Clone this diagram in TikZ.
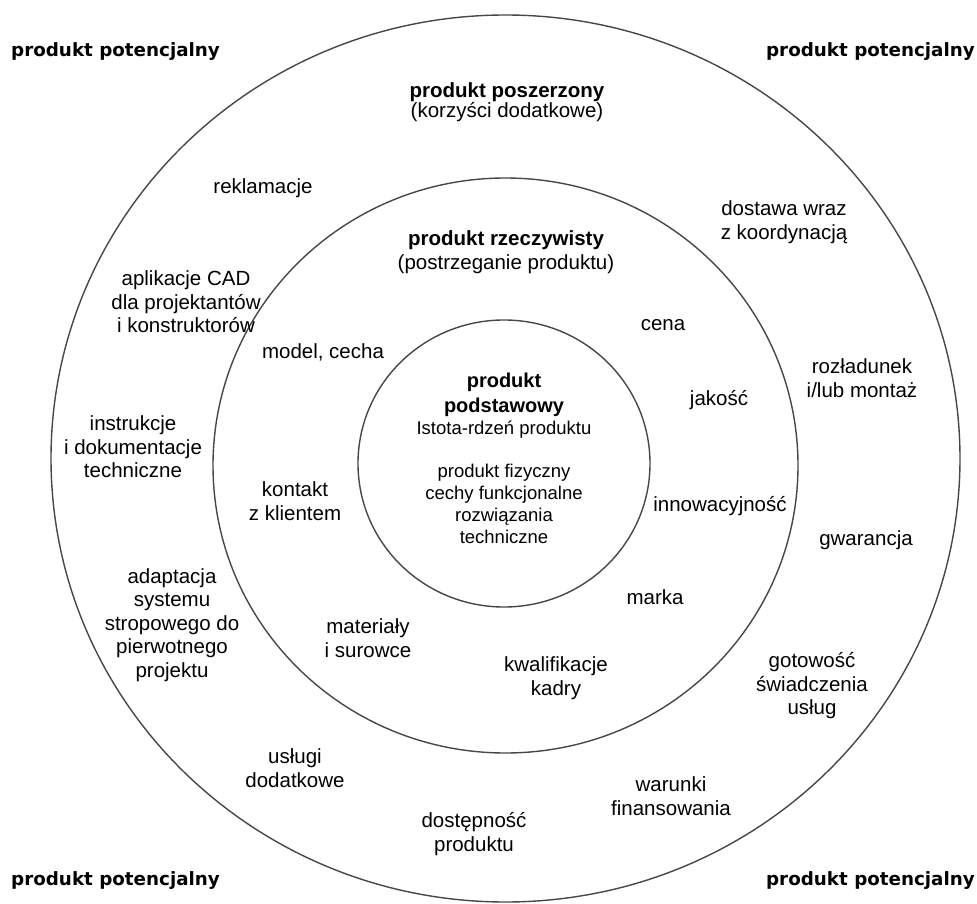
\documentclass[tikz,border=0pt]{standalone}
\usepackage{fontspec}
\setmainfont{Liberation Sans}
\newfontfamily\cornerfont{DejaVu Sans}
\usetikzlibrary{calc}

\begin{document}
\begin{tikzpicture}[x=1pt,y=-1pt,
  ring/.style={draw=black!72,line width=1.4pt},
  txt/.style={align=center,inner sep=0pt,font=\fontsize{20.5}{23.5}\selectfont},
  coretxt/.style={align=center,inner sep=0pt,font=\fontsize{18.5}{22}\selectfont},
  head/.style={align=center,inner sep=0pt,font=\fontsize{20.5}{23.5}\selectfont},
  corner/.style={inner sep=0pt,font=\cornerfont\bfseries\fontsize{18.3}{22}\selectfont}]
\useasboundingbox (0,0) rectangle (977,904);
\coordinate (O) at (505.5,458.5);
\coordinate (M) at (505.5,465.5);
\coordinate (I) at (504,463.5);
\draw[ring] (O) ellipse [x radius=454.5pt, y radius=443.5pt];
\draw[ring] (M) ellipse [x radius=292.5pt, y radius=287.5pt];
\draw[ring] (I) ellipse [x radius=146pt, y radius=143.5pt];
% corners
\foreach \n/\x/\y/\a in {tl/11/57/base west,tr/975/57/base east,bl/11/885/base west,br/975/885/base east}
  \node[corner,anchor=\a] (pot\n) at (\x,\y) {produkt potencjalny};
% heads
\node[head] (poszerzony) at (507,102) {\textbf{produkt poszerzony}\\[-3.5pt](korzyści dodatkowe)};
\node[head] (rzeczywisty) at (506,252) {\textbf{produkt rzeczywisty}\\(postrzeganie produktu)};
\node[coretxt] (podstawowy) at (504,458) {{\fontsize{20}{22}\selectfont\bfseries produkt}\\[3pt]
  {\fontsize{20}{22}\selectfont\bfseries podstawowy}\\Istota-rdzeń produktu\\[21pt]
  produkt fizyczny\\cechy funkcjonalne\\rozwiązania\\techniczne};
% outer ring
\node[txt] (reklamacje) at (263,188) {reklamacje};
\node[txt] (dostawa) at (784,222) {dostawa wraz\\z koordynacją};
\node[txt] (cad) at (186,302) {aplikacje CAD\\dla projektantów\\i konstruktorów};
\node[txt] (rozladunek) at (862,378) {rozładunek\\i/lub montaż};
\node[txt] (instrukcje) at (133,447) {instrukcje\\i dokumentacje\\techniczne};
\node[txt] (gwarancja) at (866,540) {gwarancja};
\node[txt] (adaptacja) at (172,625) {adaptacja\\systemu\\stropowego do\\pierwotnego\\projektu};
\node[txt] (gotowosc) at (812,686) {gotowość\\świadczenia\\usług};
\node[txt] (uslugi) at (295,768) {usługi\\dodatkowe};
\node[txt] (warunki) at (671,796) {warunki\\finansowania};
\node[txt] (dostepnosc) at (474,834) {dostępność\\produktu};
% middle ring
\node[txt] (cena) at (663,325) {cena};
\node[txt] (model) at (323,352) {model, cecha};
\node[txt] (jakosc) at (719,400) {jakość};
\node[txt] (kontakt) at (295,501) {kontakt\\z klientem};
\node[txt] (innowacyjnosc) at (720,506) {innowacyjność};
\node[txt] (marka) at (655,597) {marka};
\node[txt] (materialy) at (368,638) {materiały\\i surowce};
\node[txt] (kadry) at (556,678) {kwalifikacje\\kadry};
\end{tikzpicture}
\end{document}
